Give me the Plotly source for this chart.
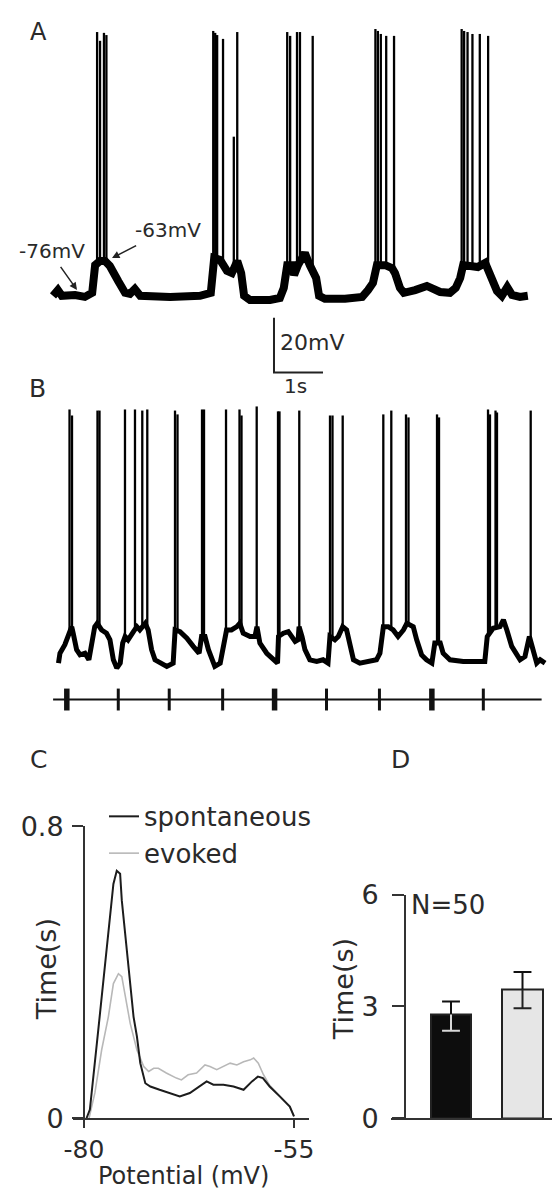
import numpy as np
import plotly.graph_objects as go

W, H = 560, 1198
# measured mapping of the figure into the photographed page (layout compensation only)
OX, OY, SX, SY = 17.0, 20.0, 0.975, 0.978
def fx(X): return (X - OX) / SX
def fy(Y): return (Y - OY) / SY
def px(X): return fx(X) / W
def py(Y): return 1 - fy(Y) / H

FONT = "DejaVu Sans"
TXT = "#2a2a2a"

# ---------------- Panel A : spontaneous recording ----------------
a_t = [0.00, 0.10, 0.18, 0.45, 0.65, 0.80, 0.86, 0.96, 1.06, 1.16, 1.33, 1.47, 1.57, 1.67, 1.78, 2.39,
       3.00, 3.22, 3.29, 3.41, 3.55, 3.65, 3.76, 3.84, 3.90, 4.02, 4.43, 4.63, 4.71, 4.78, 4.88, 4.92,
       5.00, 5.14, 5.24, 5.31, 5.37, 5.43, 5.55, 5.96, 6.31, 6.43, 6.53, 6.61, 6.78, 6.92, 6.98, 7.08,
       7.16, 7.39, 7.63, 7.90, 8.10, 8.22, 8.31, 8.37, 8.51, 8.67, 8.82, 8.90, 8.98, 9.06, 9.16, 9.27,
       9.37, 9.53, 9.69]
a_v = [-75.6, -73.5, -75.6, -75.3, -76.0, -74.5, -64.4, -62.9, -62.9, -64.7, -70.2, -74.5, -74.9, -73.1, -75.6, -76.0,
       -75.6, -74.5, -61.8, -62.5, -66.5, -67.3, -62.9, -67.3, -75.6, -77.1, -77.1, -76.4, -72.7, -64.4, -64.4, -68.0,
       -64.4, -60.0, -64.4, -67.3, -69.1, -75.6, -76.7, -76.7, -76.0, -73.5, -70.9, -64.4, -64.4, -65.5, -67.3, -72.7,
       -74.5, -73.5, -72.0, -74.2, -74.5, -72.7, -69.1, -64.4, -64.4, -65.1, -63.6, -67.3, -72.0, -73.8, -75.6, -72.4,
       -75.3, -76.0, -75.6]
a_spk_t = [0.90, 0.96, 1.04, 1.09, 3.27, 3.31, 3.35, 3.47, 3.69, 3.76, 4.78, 4.84, 4.98, 5.04, 5.30,
           6.58, 6.63, 6.69, 6.80, 6.96, 8.34, 8.39, 8.46, 8.56, 8.71, 8.88]
a_spk_v = [20.7, 17.5, 20.4, 19.6, 21.1, 20.4, 19.6, 18.2, -17.5, 20.7, 20.7, 19.3, 20.7, 20.7, 19.3,
           21.8, 21.1, 20.0, 19.3, 19.3, 21.8, 21.1, 20.7, 20.0, 20.0, 19.3]

# ---------------- Panel B : evoked recording ----------------
b_t = [0.01, 0.04, 0.14, 0.21, 0.28, 0.31, 0.38, 0.45, 0.55, 0.63,
       0.67, 0.75, 0.80, 0.89, 0.99, 1.06, 1.13, 1.20, 1.27, 1.32,
       1.37, 1.43, 1.54, 1.61, 1.67, 1.78, 1.84, 1.91, 1.98, 2.08,
       2.22, 2.35, 2.39, 2.49, 2.63, 2.76, 2.88, 2.93, 3.00, 3.07,
       3.14, 3.20, 3.31, 3.37, 3.44, 3.54, 3.65, 3.71, 3.78, 3.92,
       4.02, 4.06, 4.12, 4.26, 4.39, 4.48, 4.50, 4.60, 4.70, 4.80,
       4.84, 4.90, 4.92, 4.98, 5.04, 5.14, 5.28, 5.41, 5.51, 5.55,
       5.65, 5.72, 5.81, 5.89, 5.96, 6.03, 6.16, 6.37, 6.50, 6.57,
       6.64, 6.74, 6.84, 6.94, 7.05, 7.12, 7.25, 7.32, 7.42, 7.52,
       7.63, 7.69, 7.80, 7.86, 8.00, 8.27, 8.54, 8.71, 8.76, 8.88,
       9.02, 9.09, 9.16, 9.26, 9.43, 9.53, 9.62, 9.70, 9.77, 9.84, 9.94]
b_v = [-76.6, -73.0, -69.9, -66.9, -63.3, -65.7, -71.7, -73.6, -73.0, -75.4,
       -70.5, -63.3, -62.1, -64.5, -65.7, -68.1, -75.4, -78.4, -76.6, -69.3,
       -66.9, -68.1, -65.1, -63.3, -64.5, -62.1, -64.5, -71.7, -75.4, -76.6,
       -77.8, -76.6, -64.5, -65.1, -67.5, -70.5, -73.0, -66.9, -66.9, -71.7,
       -75.4, -77.8, -76.6, -71.7, -64.5, -64.5, -63.3, -62.1, -65.7, -66.9,
       -66.9, -63.3, -69.3, -73.0, -75.4, -76.6, -66.9, -65.7, -65.1, -68.1,
       -68.7, -68.1, -63.3, -66.9, -71.7, -75.4, -76.0, -75.4, -76.6, -66.9,
       -68.1, -66.9, -63.3, -64.5, -69.3, -75.4, -76.6, -76.0, -75.4, -73.0,
       -63.3, -63.3, -64.5, -66.9, -64.5, -62.1, -63.3, -68.1, -73.6, -75.4,
       -76.6, -69.3, -69.3, -73.0, -75.4, -76.0, -76.0, -76.0, -66.9, -63.9,
       -63.3, -60.8, -64.5, -70.5, -75.4, -74.2, -66.9, -71.7, -76.6, -75.4, -76.6]
b_spk_t = [0.235, 0.286, 0.806, 0.847, 1.367, 1.571, 1.720, 1.822, 2.388, 2.439, 2.939, 2.980,
           3.429, 3.704, 3.745, 4.055, 4.490, 4.520, 4.924, 5.551, 5.602, 5.810, 6.639, 6.802,
           7.102, 7.153, 7.735, 7.776, 8.776, 8.816, 8.929, 8.959, 9.647]
b_spk_v = [16.0, 13.8, 15.6, 15.6, 16.0, 16.0, 15.6, 16.0, 15.6, 14.2, 16.0, 16.0,
           16.0, 16.0, 13.8, 17.1, 15.3, 15.3, 15.6, 13.8, 13.8, 13.8, 14.2, 15.6,
           14.2, 13.1, 14.2, 13.1, 16.0, 14.2, 15.6, 14.9, 15.6]
stim_t = [0.18, 1.23, 2.27, 3.36, 4.42, 5.48, 6.56, 7.63, 8.68]
stim_wide = [True, False, False, False, True, False, False, True, False]

# ---------------- Panel C : time spent at each potential ----------------
c_spont_x = [-79.7, -79.3, -78.3, -77.3, -76.5, -76.1, -75.7, -75.5, -75.1, -74.7, -74.1, -73.7, -73.3,
             -72.7, -72.1, -71.0, -69.8, -68.6, -67.4, -66.2, -65.4, -64.6, -63.4, -62.2, -61.0, -60.0,
             -59.3, -58.7, -57.9, -56.7, -55.5, -55.0]
c_spont_y = [0.0, 0.024, 0.242, 0.469, 0.642, 0.678, 0.670, 0.597, 0.506, 0.415, 0.278, 0.224, 0.151,
             0.096, 0.087, 0.078, 0.069, 0.060, 0.069, 0.087, 0.101, 0.092, 0.092, 0.087, 0.078, 0.101,
             0.114, 0.110, 0.087, 0.060, 0.032, 0.005]
c_evok_x = [-79.4, -78.7, -77.9, -77.1, -76.5, -75.9, -75.5, -75.1, -74.5, -73.7, -72.9, -72.3, -71.7,
            -71.15, -70.2, -69.0, -68.4, -67.6, -66.6, -65.6, -65.0, -64.2, -63.4, -62.6, -61.8, -61.0,
            -60.2, -59.8, -59.25, -58.65, -57.9, -56.7, -55.5, -55.0]
c_evok_y = [0.0, 0.07, 0.187, 0.278, 0.369, 0.396, 0.388, 0.333, 0.260, 0.187, 0.142, 0.128, 0.137,
            0.137, 0.124, 0.110, 0.105, 0.119, 0.124, 0.146, 0.142, 0.133, 0.142, 0.151, 0.146, 0.155,
            0.160, 0.165, 0.151, 0.120, 0.090, 0.062, 0.032, 0.005]

# ---------------- Panel D : mean time (s) ----------------
d_groups = ["spontaneous", "evoked"]
d_mean = [2.78, 3.46]
d_err_hi = [3.13, 3.92]
d_err_lo = [2.35, 2.95]
d_n = 50

scalebar_mv = 20
scalebar_s = 1

# ---------------- pixel calibration (layout only) ----------------
PX_PER_S = 49.0
PX_PER_MV = 2.75
A_T0_PX, A_V0, A_V0_PY = 53, -76.0, 294
B_T0_PX, B_V0, B_V0_PY = 58, -76.0, 660

def t_range(t0px):
    return [(OX + SX * 0 - t0px) / PX_PER_S, (OX + SX * W - t0px) / PX_PER_S]

def v_range(v0, v0py):
    return [v0 - (OY + SY * H - v0py) / PX_PER_MV, v0 - (OY + SY * 0 - v0py) / PX_PER_MV]

def spike_path(st, sv, tr_t, tr_v):
    base = np.interp(st, tr_t, tr_v)
    xs, ys = [], []
    for t, b, p in zip(st, base, sv):
        xs += [t, t, None]
        ys += [b, p, None]
    return xs, ys

fig = go.Figure()
K = dict(showlegend=False, hoverinfo="skip", mode="lines")

# A
fig.add_trace(go.Scatter(x=a_t, y=a_v, line=dict(color="black", width=8), xaxis="x", yaxis="y", **K))
sx, sy = spike_path(a_spk_t, a_spk_v, a_t, a_v)
fig.add_trace(go.Scatter(x=sx, y=sy, line=dict(color="black", width=2.3), xaxis="x", yaxis="y", **K))
sb_t0, sb_vtop = 4.51, -83.6
fig.add_trace(go.Scatter(x=[sb_t0, sb_t0, sb_t0 + scalebar_s],
                         y=[sb_vtop, sb_vtop - scalebar_mv, sb_vtop - scalebar_mv],
                         line=dict(color="#222", width=2), xaxis="x", yaxis="y", **K))

# B
fig.add_trace(go.Scatter(x=b_t, y=b_v, line=dict(color="black", width=5), xaxis="x2", yaxis="y2", **K))
sx, sy = spike_path(b_spk_t, b_spk_v, b_t, b_v)
fig.add_trace(go.Scatter(x=sx, y=sy, line=dict(color="black", width=2.3), xaxis="x2", yaxis="y2", **K))
stim_level, stim_half = -89.9, 4.0
fig.add_trace(go.Scatter(x=[-0.10, 9.87], y=[stim_level, stim_level],
                         line=dict(color="#111", width=2), xaxis="x2", yaxis="y2", **K))
for wide, lw in ((False, 3), (True, 5.5)):
    xs, ys = [], []
    for t, w in zip(stim_t, stim_wide):
        if w == wide:
            xs += [t, t, None]
            ys += [stim_level + stim_half, stim_level - stim_half, None]
    fig.add_trace(go.Scatter(x=xs, y=ys, line=dict(color="#111", width=lw), xaxis="x2", yaxis="y2", **K))

# C
fig.add_trace(go.Scatter(x=c_evok_x, y=c_evok_y, mode="lines", name="evoked", legendrank=2,
                         line=dict(color="#b8b8b8", width=1.6), xaxis="x3", yaxis="y3", hoverinfo="skip"))
fig.add_trace(go.Scatter(x=c_spont_x, y=c_spont_y, mode="lines", name="spontaneous", legendrank=1,
                         line=dict(color="#1c1c1c", width=2), xaxis="x3", yaxis="y3", hoverinfo="skip"))

# D
fig.add_trace(go.Bar(x=[1, 2], y=d_mean, width=0.56, marker=dict(color=["#0d0d0d", "#e6e6e6"],
                     line=dict(color="#222", width=2)), xaxis="x4", yaxis="y4",
                     showlegend=False, hoverinfo="skip"))
cap = 0.125
for i, (m, hi, lo) in enumerate(zip(d_mean, d_err_hi, d_err_lo)):
    xc = i + 1
    low_col = "#d8d8d8" if i == 0 else "#222"
    fig.add_trace(go.Scatter(x=[xc, xc, None, xc - cap, xc + cap], y=[m, hi, None, hi, hi],
                             line=dict(color="#111", width=2), xaxis="x4", yaxis="y4", **K))
    fig.add_trace(go.Scatter(x=[xc, xc, None, xc - cap, xc + cap], y=[m, lo, None, lo, lo],
                             line=dict(color=low_col, width=2), xaxis="x4", yaxis="y4", **K))

def ax_common(size):
    return dict(showgrid=False, zeroline=False, showline=True, linecolor="#333", linewidth=2,
                ticks="outside", tickwidth=2, tickcolor="#333",
                tickfont=dict(family=FONT, size=size, color=TXT))

c_y0, c_y08 = 1118.6, 825.5
c_x_axis_px, c_px_per_mv = 84, 8.4
c_xl, c_xr = 73, 309
d_y0, d_y6 = 1118.6, 894
d_xl, d_c1, d_px_unit, d_yaxis_px = 391, 451, 71.5, 405

fig.update_layout(
    width=W, height=H, margin=dict(l=0, r=0, t=0, b=0, pad=0), autosize=False,
    paper_bgcolor="white", plot_bgcolor="rgba(0,0,0,0)",
    xaxis=dict(domain=[0, 1], range=t_range(A_T0_PX), visible=False, fixedrange=True),
    yaxis=dict(domain=[0, 1], range=v_range(A_V0, A_V0_PY), visible=False, fixedrange=True),
    xaxis2=dict(domain=[0, 1], range=t_range(B_T0_PX), visible=False, fixedrange=True),
    yaxis2=dict(domain=[0, 1], range=v_range(B_V0, B_V0_PY), visible=False, fixedrange=True),
    xaxis3=dict(domain=[px(c_xl), px(c_xr)],
                range=[-80 - (c_x_axis_px - c_xl) / c_px_per_mv, -80 + (c_xr - c_x_axis_px) / c_px_per_mv],
                anchor="y3", tickvals=[-80, -55], ticktext=["-80", "-55"], ticklen=8,
                ticklabelstandoff=0, **ax_common(25)),
    yaxis3=dict(domain=[py(c_y0), py(c_y08)], range=[0, 0.8], anchor="free", position=px(c_x_axis_px),
                tickvals=[0, 0.8], ticktext=["0", "0.8"], ticklen=11, ticklabelstandoff=3, **ax_common(27)),
    xaxis4=dict(domain=[px(d_xl), 1],
                range=[1 - (d_c1 - d_xl) / d_px_unit, 1 - (d_c1 - d_xl) / d_px_unit + (OX + SX * W - d_xl) / d_px_unit],
                anchor="y4", showgrid=False, zeroline=False, showline=True, linecolor="#333", linewidth=2,
                showticklabels=False, ticks=""),
    yaxis4=dict(domain=[py(d_y0), py(d_y6)], range=[0, 6], anchor="free", position=px(d_yaxis_px),
                tickvals=[0, 3, 6], ticklen=12, ticklabelstandoff=8, **ax_common(27)),
    legend=dict(x=px(104), y=py(792), xanchor="left", yanchor="top", bgcolor="rgba(0,0,0,0)",
                font=dict(family=FONT, size=26, color=TXT), tracegroupgap=0),
    bargap=0,
)

def ann(text, x, y, size, xanchor="center", angle=0):
    fig.add_annotation(text=text, x=px(x), y=py(y), xref="paper", yref="paper", showarrow=False,
                       xanchor=xanchor, yanchor="middle", textangle=angle,
                       font=dict(family=FONT, size=size, color=TXT))

ann("A", 38, 28, 24)
ann("B", 37, 386, 25)
ann("C", 38, 758, 25)
ann("D", 400, 758, 25)
ann("-76mV", 17, 248, 20, "left")
ann("-63mV", 133, 227, 20, "left")
ann(f"{scalebar_mv}mV", 278, 340, 22, "left")
ann(f"{scalebar_s}s", 295, 383, 20)
ann(f"N={d_n}", 409, 905, 26, "left")
ann("Time(s)", 46, 969, 27, angle=-90)
ann("Time(s)", 343, 989, 27, angle=-90)
ann("Potential (mV)", 183, 1177, 24)

for (hx, hy, tx, ty) in ((77, 287, 60, 263), (112, 255, 137, 242)):
    fig.add_annotation(text="", x=px(hx), y=py(hy), xref="paper", yref="paper", showarrow=True,
                       ax=(tx - hx) / SX, ay=(ty - hy) / SY, arrowhead=2, arrowsize=1,
                       arrowwidth=1.5, arrowcolor="#222")

fig.write_html("out.html")
